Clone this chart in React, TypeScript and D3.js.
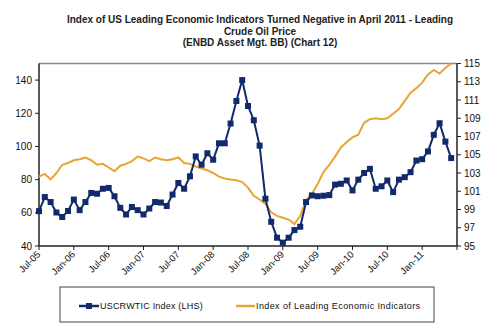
import React from "react";
import * as d3 from "d3";

const titleLines = [
  "Index of US Leading Economic Indicators Turned Negative in April  2011 - Leading",
  "Crude Oil Price",
  "(ENBD Asset Mgt. BB) (Chart 12)",
];

// monthly from Jul-05
const oilValues = [
  61, 69.5, 66.5, 60.2, 57.5, 61.1, 68, 61.6, 66.5, 72, 71.5, 74.5,
  75, 70, 63, 59, 63.5, 61.6, 59, 62.6, 66.5, 66.2, 64.1, 71,
  78, 74.5, 82, 94, 89, 95.9, 92, 101.9, 101.9, 113.8, 127.4, 140,
  124.4, 115.8, 100.5, 68.5, 54.6, 45, 42, 45, 49.6, 51.6, 66.5, 70.5,
  70, 70.3, 70.7, 77, 77.5, 79.5, 73.5, 80, 84, 86.5, 74.5, 76,
  79.5, 72.5, 80, 81.5, 84.5, 91.5, 92.3, 97, 107, 114, 102.9, 93,
];

const leiValues = [
  102.6, 102.9, 102.3, 103.0, 103.9, 104.1, 104.4, 104.5, 104.7, 104.4, 103.9, 104.0,
  103.6, 103.2, 103.8, 104.0, 104.3, 104.8, 104.6, 104.3, 104.7, 104.5, 104.4, 104.5,
  104.7, 104.1, 104.0, 103.7, 103.5, 103.3, 103.0, 102.6, 102.4, 102.3, 102.2, 102.0,
  101.4, 100.5, 100.1, 99.6, 98.7, 98.3, 98.1, 97.9, 97.4, 98.3, 100.0, 100.7,
  101.8, 103.1, 103.9, 104.8, 105.8, 106.4, 106.9, 107.2, 108.5, 108.9, 109.0, 108.9,
  109.0, 109.5, 110.0, 110.9, 111.8, 112.3, 112.9, 113.8, 114.3, 113.9, 114.5, 115.0,
];

const xTickLabels = [
  "Jul-05", "Jan-06", "Jul-06", "Jan-07", "Jul-07", "Jan-08",
  "Jul-08", "Jan-09", "Jul-09", "Jan-10", "Jul-10", "Jan-11",
];
const leftTicks = [40, 60, 80, 100, 120, 140];
const rightTicks = [95, 97, 99, 101, 103, 105, 107, 109, 111, 113, 115];

const seriesNames = ["USCRWTIC Index (LHS)", "Index of Leading Economic Indicators"];

const NAVY = "#102a6b";
const GOLD = "#e8a534";
const FONT = "'Liberation Sans', Arial, sans-serif";

export default function App() {
  const left = 39, right = 457, top = 63.5, bottom = 246;
  const x = d3.scaleLinear().domain([0, 72]).range([left, right]);
  const yL = d3.scaleLinear().domain([40, 150]).range([bottom, top]);
  const yR = d3.scaleLinear().domain([95, 115]).range([bottom, top]);

  const oilLine = d3.line<number>().x((_, i) => x(i)).y((d) => yL(d));
  const leiLine = d3.line<number>().x((_, i) => x(i)).y((d) => yR(d));

  const xTicks = d3.range(0, 73, 6);

  return (
    <svg width={490} height={335} style={{ position: "absolute", left: 0, top: 0, background: "#fff" }} fontFamily={FONT}>
      {titleLines.map((t, i) => (
        <text key={i} x={260} y={23 + i * 11.5} textAnchor="middle" fontSize={10} fontWeight="bold" fill="#222">
          {t}
        </text>
      ))}
      {/* plot frame top */}
      <line x1={left} x2={right} y1={top} y2={top} stroke="#888" strokeWidth={1.5} />
      {/* axes */}
      <line x1={left} x2={left} y1={top} y2={bottom} stroke="#222" strokeWidth={1.5} />
      <line x1={right} x2={right} y1={top} y2={bottom} stroke="#222" strokeWidth={1.5} />
      <line x1={left} x2={right} y1={bottom} y2={bottom} stroke="#222" strokeWidth={1.5} />
      {leftTicks.map((t) => (
        <g key={"l" + t}>
          <line x1={left - 4} x2={left} y1={yL(t)} y2={yL(t)} stroke="#222" />
          <text x={left - 7} y={yL(t) + 3.5} textAnchor="end" fontSize={10} fill="#111">{t}</text>
        </g>
      ))}
      {rightTicks.map((t) => (
        <g key={"r" + t}>
          <line x1={right} x2={right + 4} y1={yR(t)} y2={yR(t)} stroke="#222" />
          <text x={right + 7} y={yR(t) + 3.5} textAnchor="start" fontSize={10} fill="#111">{t}</text>
        </g>
      ))}
      {xTicks.map((m) => (
        <line key={"x" + m} x1={x(m)} x2={x(m)} y1={bottom} y2={bottom + 4} stroke="#222" />
      ))}
      {xTickLabels.map((lab, i) => (
        <text
          key={lab}
          transform={`translate(${x(i * 6) + 2},${bottom + 9}) rotate(-45)`}
          textAnchor="end"
          fontSize={9.5}
          fill="#111"
        >
          {lab}
        </text>
      ))}
      {/* series */}
      <path d={leiLine(leiValues) || ""} fill="none" stroke={GOLD} strokeWidth={2} />
      <path d={oilLine(oilValues) || ""} fill="none" stroke={NAVY} strokeWidth={2} />
      {oilValues.map((v, i) => (
        <rect key={i} x={x(i) - 3} y={yL(v) - 3} width={6} height={6} fill={NAVY} />
      ))}
      {/* legend */}
      <rect x={60} y={287} width={374} height={35} fill="#fff" stroke="#444" strokeWidth={1} />
      <line x1={79} x2={99} y1={306} y2={306} stroke={NAVY} strokeWidth={2.5} />
      <rect x={86} y={303} width={6} height={6} fill={NAVY} />
      <text x={100} y={309} fontSize={9} letterSpacing={0.2} fill="#111">{seriesNames[0]}</text>
      <line x1={236} x2={255} y1={306} y2={306} stroke={GOLD} strokeWidth={2.5} />
      <text x={256} y={309} fontSize={9} letterSpacing={0.4} fill="#111">{seriesNames[1]}</text>
    </svg>
  );
}
